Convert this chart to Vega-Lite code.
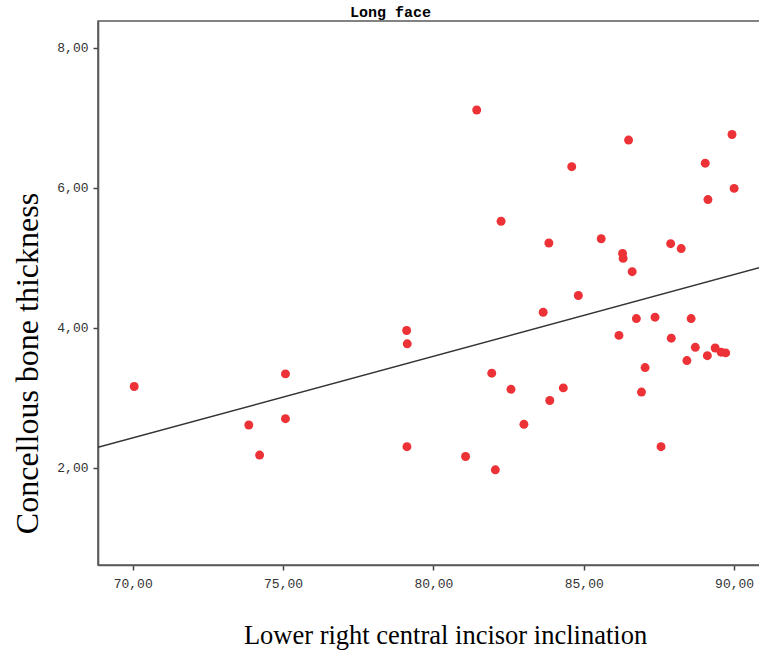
{
  "$schema": "https://vega.github.io/schema/vega-lite/v6.json",
  "autosize": {"type": "none"},
  "padding": {"left": 98, "top": 21, "right": 0, "bottom": 86},
  "width": 662,
  "height": 544,
  "background": "white",
  "config": {
    "view": {"stroke": "#5a5a5a", "strokeWidth": 1.6},
    "axis": {"grid": false}
  },
  "title": {
    "text": "Long face",
    "anchor": "start",
    "frame": "group",
    "dx": 252,
    "offset": 1,
    "font": "Liberation Mono",
    "fontSize": 15,
    "fontWeight": "bold",
    "color": "#000000"
  },
  "datasets": {
    "points": [
      {"inclination": 70.05, "thickness": 3.16},
      {"inclination": 75.08, "thickness": 3.34},
      {"inclination": 75.08, "thickness": 2.70},
      {"inclination": 73.86, "thickness": 2.61},
      {"inclination": 74.22, "thickness": 2.18},
      {"inclination": 81.44, "thickness": 7.11},
      {"inclination": 84.60, "thickness": 6.30},
      {"inclination": 82.25, "thickness": 5.52},
      {"inclination": 83.84, "thickness": 5.21},
      {"inclination": 79.11, "thickness": 3.96},
      {"inclination": 79.13, "thickness": 3.77},
      {"inclination": 79.12, "thickness": 2.30},
      {"inclination": 83.65, "thickness": 4.22},
      {"inclination": 84.82, "thickness": 4.46},
      {"inclination": 81.94, "thickness": 3.35},
      {"inclination": 82.58, "thickness": 3.12},
      {"inclination": 84.32, "thickness": 3.14},
      {"inclination": 83.87, "thickness": 2.96},
      {"inclination": 83.01, "thickness": 2.62},
      {"inclination": 81.07, "thickness": 2.16},
      {"inclination": 82.06, "thickness": 1.97},
      {"inclination": 86.49, "thickness": 6.68},
      {"inclination": 89.93, "thickness": 6.76},
      {"inclination": 89.04, "thickness": 6.35},
      {"inclination": 90.00, "thickness": 5.99},
      {"inclination": 89.13, "thickness": 5.83},
      {"inclination": 85.58, "thickness": 5.27},
      {"inclination": 86.29, "thickness": 5.06},
      {"inclination": 86.31, "thickness": 4.99},
      {"inclination": 86.61, "thickness": 4.80},
      {"inclination": 87.89, "thickness": 5.20},
      {"inclination": 88.24, "thickness": 5.13},
      {"inclination": 86.75, "thickness": 4.13},
      {"inclination": 87.37, "thickness": 4.15},
      {"inclination": 88.57, "thickness": 4.13},
      {"inclination": 86.17, "thickness": 3.89},
      {"inclination": 87.91, "thickness": 3.85},
      {"inclination": 88.71, "thickness": 3.72},
      {"inclination": 89.37, "thickness": 3.71},
      {"inclination": 89.57, "thickness": 3.65},
      {"inclination": 89.72, "thickness": 3.64},
      {"inclination": 88.43, "thickness": 3.53},
      {"inclination": 89.11, "thickness": 3.60},
      {"inclination": 87.04, "thickness": 3.43},
      {"inclination": 86.92, "thickness": 3.08},
      {"inclination": 87.57, "thickness": 2.30}
    ],
    "fit": [
      {"inclination": 68.846, "thickness": 2.29},
      {"inclination": 90.861, "thickness": 4.86}
    ]
  },
  "encoding": {
    "x": {
      "field": "inclination",
      "type": "quantitative",
      "scale": {"domain": [68.846, 90.861], "nice": false, "zero": false},
      "axis": {
        "title": "Lower right central incisor inclination",
        "values": [70, 75, 80, 85, 90],
        "labelExpr": "replace(format(datum.value, '.2f'), '.', ',')",
        "labelFont": "Liberation Mono",
        "labelFontSize": 13,
        "labelColor": "#333333",
        "labelPadding": 7,
        "tickSize": 5,
        "tickColor": "#444444",
        "tickWidth": 1.5,
        "domainColor": "#5a5a5a",
        "domainWidth": 1.6,
        "titleFont": "Liberation Serif",
        "titleFontSize": 26.5,
        "titleFontWeight": "normal",
        "titleColor": "#000000",
        "titleBaseline": "alphabetic",
        "titleX": 347,
        "titleY": 78
      }
    },
    "y": {
      "field": "thickness",
      "type": "quantitative",
      "scale": {"domain": [0.61, 8.381], "nice": false, "zero": false},
      "axis": {
        "title": "Concellous bone thickness",
        "values": [2, 4, 6, 8],
        "labelExpr": "replace(format(datum.value, '.2f'), '.', ',')",
        "labelFont": "Liberation Mono",
        "labelFontSize": 13,
        "labelColor": "#333333",
        "labelPadding": 5,
        "tickSize": 5,
        "tickColor": "#444444",
        "tickWidth": 1.5,
        "domainColor": "#5a5a5a",
        "domainWidth": 1.6,
        "titleFont": "Liberation Serif",
        "titleFontSize": 32,
        "titleFontWeight": "normal",
        "titleColor": "#000000",
        "titleAngle": -90,
        "titleBaseline": "alphabetic",
        "titleAlign": "center",
        "titleX": -61,
        "titleY": 342
      }
    }
  },
  "layer": [
    {
      "data": {"name": "fit"},
      "mark": {"type": "line", "color": "#333333", "strokeWidth": 1.5, "clip": true}
    },
    {
      "data": {"name": "points"},
      "mark": {"type": "circle", "color": "#EC3237", "opacity": 1, "size": 80}
    }
  ]
}
